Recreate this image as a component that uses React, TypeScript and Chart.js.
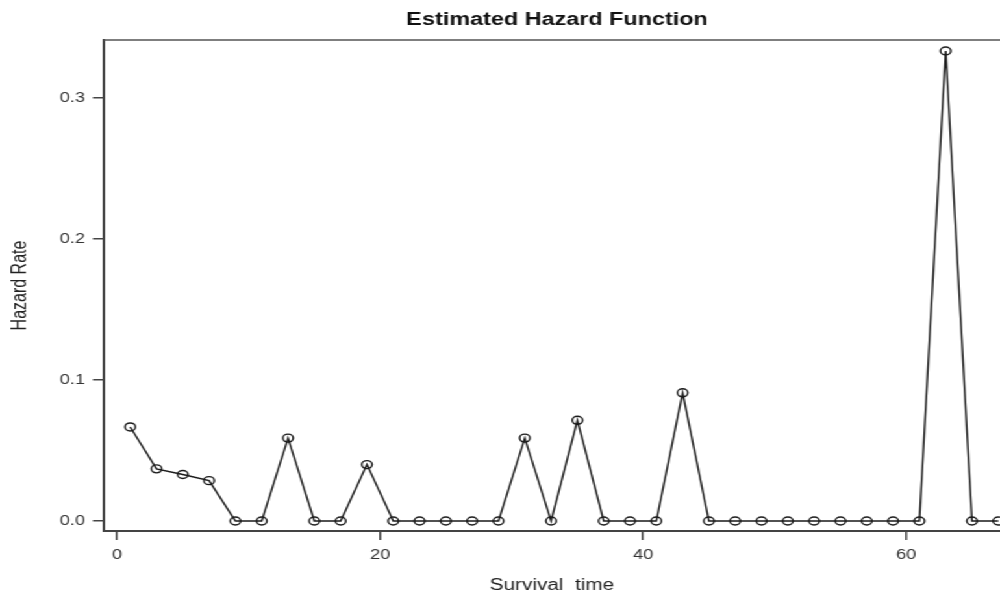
import React, { useEffect, useRef } from "react";
import { Chart, registerables } from "chart.js";

Chart.register(...registerables);

const survivalTimes = [1, 3, 5, 7, 9, 11, 13, 15, 17, 19, 21, 23, 25, 27, 29, 31, 33, 35, 37, 39, 41, 43, 45, 47, 49, 51, 53, 55, 57, 59, 61, 63, 65, 67];
const hazardRates = [0.0667, 0.037, 0.033, 0.0286, 0, 0, 0.0588, 0, 0, 0.04, 0, 0, 0, 0, 0, 0.0588, 0, 0.0714, 0, 0, 0, 0.0909, 0, 0, 0, 0, 0, 0, 0, 0, 0, 0.3333, 0, 0];
const xTickValues = [0, 20, 40, 60];
const yTickValues = [0, 0.1, 0.2, 0.3];

const TITLE = "Estimated Hazard Function";
const X_TITLE = "Survival  time";
const Y_TITLE = "Hazard Rate";

const INNER_W = 770;
const H = 595;
const STRETCH = 1000 / INNER_W;
const FONT = "'Liberation Sans', Arial, sans-serif";

export default function App() {
  const ref = useRef<HTMLCanvasElement | null>(null);

  useEffect(() => {
    if (!ref.current) return;
    const topLinePlugin = {
      id: "frameAndTitle",
      afterDraw(chart: any) {
        const { ctx, chartArea } = chart;
        ctx.save();
        ctx.strokeStyle = "#555";
        ctx.lineWidth = 1.5;
        ctx.beginPath();
        ctx.moveTo(chartArea.left, chartArea.top);
        ctx.lineTo(chart.width, chartArea.top);
        ctx.stroke();
        ctx.fillStyle = "#111";
        ctx.font = `bold 18px ${FONT}`;
        ctx.textAlign = "center";
        ctx.textBaseline = "middle";
        ctx.fillText(TITLE, 557 / STRETCH, 20);
        ctx.restore();
      },
    };

    const chart = new Chart(ref.current, {
      type: "scatter",
      data: {
        datasets: [
          {
            data: survivalTimes.map((t, i) => ({ x: t, y: hazardRates[i] })),
            showLine: true,
            borderColor: "#1a1a1a",
            borderWidth: 1.4,
            pointStyle: "circle",
            pointRadius: 4,
            pointBorderWidth: 1.4,
            pointBorderColor: "#1a1a1a",
            pointBackgroundColor: "rgba(0,0,0,0)",
            pointHoverRadius: 4,
          },
        ],
      },
      options: {
        animation: false,
        responsive: false,
        devicePixelRatio: 1,
        layout: { autoPadding: false, padding: { top: 40, left: 0, right: 0, bottom: 0 } },
        plugins: {
          legend: { display: false },
          title: { display: false },
          tooltip: { enabled: false },
        },
        scales: {
          x: {
            type: "linear",
            min: -1,
            max: 67.13,
            afterBuildTicks: (scale: any) => {
              scale.ticks = xTickValues.map((v) => ({ value: v }));
            },
            afterFit: (scale: any) => {
              scale.height = 64;
            },
            grid: {
              drawOnChartArea: false,
              drawTicks: true,
              tickLength: 9,
              color: "#444",
              lineWidth: 1.5,
            },
            border: { display: true, color: "#444", width: 2 },
            ticks: {
              color: "#333",
              font: { family: FONT, size: 14 },
              padding: 7,
              maxRotation: 0,
              callback: (v: any) => String(Math.round(Number(v))),
            },
            title: {
              display: true,
              text: X_TITLE,
              color: "#222",
              font: { family: FONT, size: 16 },
              padding: { top: 0, bottom: 0 },
            },
          },
          y: {
            type: "linear",
            min: -0.00709,
            max: 0.3411,
            afterBuildTicks: (scale: any) => {
              scale.ticks = yTickValues.map((v) => ({ value: v }));
            },
            afterFit: (scale: any) => {
              scale.width = 80;
            },
            grid: {
              drawOnChartArea: false,
              drawTicks: true,
              tickLength: 8.5,
              color: "#444",
              lineWidth: 1.5,
            },
            border: { display: true, color: "#444", width: 2 },
            ticks: {
              color: "#333",
              font: { family: FONT, size: 14 },
              padding: 6,
              callback: (v: any) => Number(v).toFixed(1),
            },
            title: {
              display: true,
              text: Y_TITLE,
              color: "#222",
              font: { family: FONT, size: 16 },
              padding: { top: 6, bottom: 0 },
            },
          },
        },
      },
      plugins: [topLinePlugin],
    });
    return () => chart.destroy();
  }, []);

  return (
    <div
      style={{
        position: "fixed",
        left: 0,
        top: 0,
        width: INNER_W,
        height: H,
        transform: `scaleX(${STRETCH})`,
        transformOrigin: "0 0",
        background: "#fff",
      }}
    >
      <canvas ref={ref} width={INNER_W} height={H} style={{ display: "block" }} />
    </div>
  );
}
